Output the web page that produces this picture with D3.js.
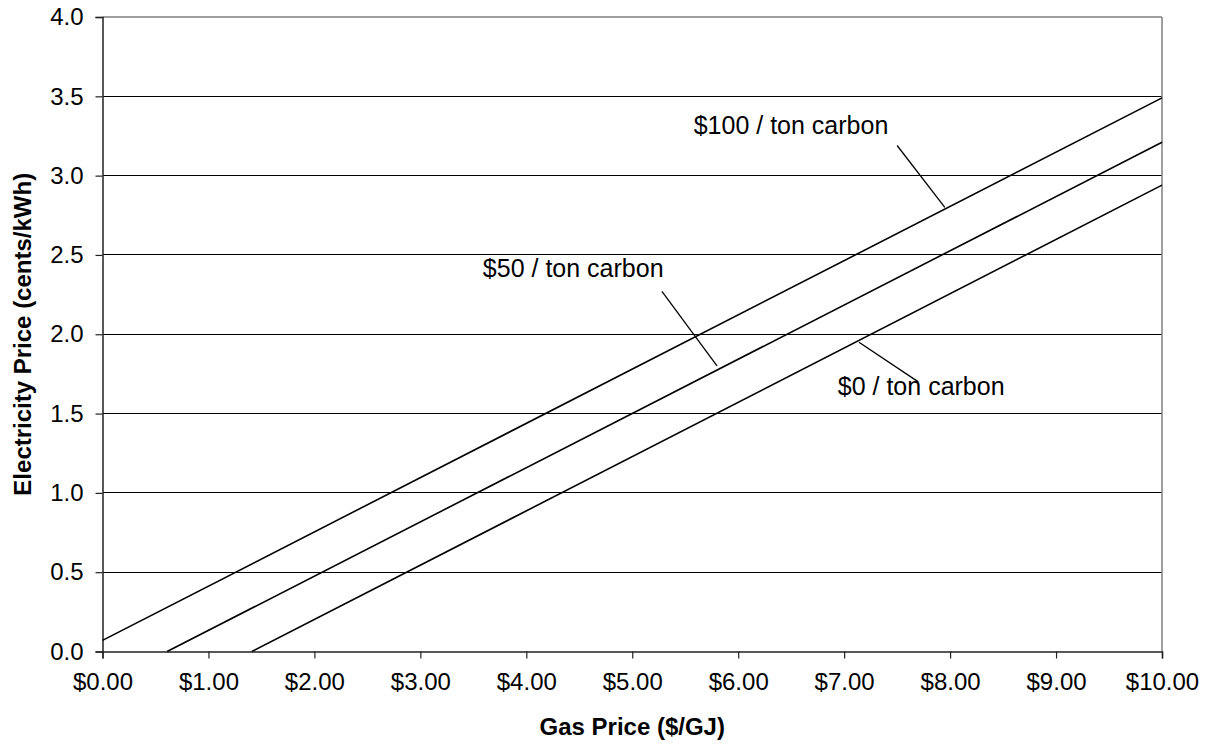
<!DOCTYPE html>
<html>
<head>
<meta charset="utf-8">
<script src="https://cdn.jsdelivr.net/npm/d3@7"></script>
<style>
  html, body { margin: 0; padding: 0; background: #fff; }
  svg { display: block; font-family: "Liberation Sans", Arial, sans-serif; }
</style>
</head>
<body>
<svg id="chart" width="1213" height="744"></svg>
<script>
// ---- data ----
const xTicks = [0, 1, 2, 3, 4, 5, 6, 7, 8, 9, 10];
const yTicks = [0.0, 0.5, 1.0, 1.5, 2.0, 2.5, 3.0, 3.5, 4.0];
const seriesNames = ["$0 / ton carbon", "$50 / ton carbon", "$100 / ton carbon"];
const gasPrice0   = [1.41, 10];
const elecPrice0  = [0.00, 2.94];
const gasPrice50  = [0.61, 10];
const elecPrice50 = [0.00, 3.21];
const gasPrice100 = [0.00, 10];
const elecPrice100= [0.07, 3.49];
// label anchor (data units) and callout line ends (data units)
const labelX   = [6.94, 3.59, 5.58];
const labelY   = [1.617, 2.36, 3.263];
const calloutX1 = [7.14, 5.28, 7.50];
const calloutY1 = [1.95, 2.27, 3.19];
const calloutX2 = [7.70, 5.80, 7.95];
const calloutY2 = [1.70, 1.80, 2.80];

(function () {
const series = [
  { name: seriesNames[0], xs: gasPrice0,   ys: elecPrice0 },
  { name: seriesNames[1], xs: gasPrice50,  ys: elecPrice50 },
  { name: seriesNames[2], xs: gasPrice100, ys: elecPrice100 }
].map(s => ({ name: s.name, pts: s.xs.map((x, i) => ({ x, y: s.ys[i] })) }));

// ---- layout ----
const svg = d3.select("#chart");
const mLeft = 102.5, mRight = 1162, mTop = 17, mBottom = 651.5;
const x = d3.scaleLinear().domain([0, 10]).range([mLeft, mRight]);
const y = d3.scaleLinear().domain([0, 4]).range([mBottom, mTop]);

// gridlines
svg.append("g").selectAll("line")
  .data(yTicks.filter(t => t > 0 && t < 4))
  .join("line")
  .attr("x1", mLeft).attr("x2", mRight)
  .attr("y1", d => y(d)).attr("y2", d => y(d))
  .attr("stroke", "#000").attr("stroke-width", 1).attr("shape-rendering", "crispEdges");

// plot border (top & right gray)
svg.append("line").attr("x1", mLeft).attr("x2", mRight).attr("y1", mTop).attr("y2", mTop)
  .attr("stroke", "#808080").attr("stroke-width", 1.5);
svg.append("line").attr("x1", mRight).attr("x2", mRight).attr("y1", mTop).attr("y2", mBottom)
  .attr("stroke", "#808080").attr("stroke-width", 1.5);

// axes
const xAxis = d3.axisBottom(x).tickValues(xTicks).tickSize(7).tickPadding(14)
  .tickFormat(d => "$" + d3.format(".2f")(d));
const gx = svg.append("g").attr("transform", `translate(0,${mBottom})`).call(xAxis);
const yAxis = d3.axisLeft(y).tickValues(yTicks).tickSize(7).tickPadding(12)
  .tickFormat(d3.format(".1f"));
const gy = svg.append("g").attr("transform", `translate(${mLeft},0)`).call(yAxis);

[gx, gy].forEach(g => {
  g.select(".domain").attr("stroke", "#222").attr("stroke-width", 1.5);
  g.selectAll(".tick line").attr("stroke", "#222").attr("stroke-width", 1.2);
  g.selectAll(".tick text").attr("fill", "#000").style("font-size", "24px")
    .style("font-family", '"Liberation Sans", Arial, sans-serif');
});

// series lines
const line = d3.line().x(d => x(d.x)).y(d => y(d.y));
svg.append("g").selectAll("path")
  .data(series).join("path")
  .attr("d", d => line(d.pts))
  .attr("fill", "none").attr("stroke", "#000").attr("stroke-width", 1.6);

// callouts
const idx = seriesNames.map((n, i) => i);
svg.append("g").selectAll("line")
  .data(idx).join("line")
  .attr("x1", i => x(calloutX1[i])).attr("y1", i => y(calloutY1[i]))
  .attr("x2", i => x(calloutX2[i])).attr("y2", i => y(calloutY2[i]))
  .attr("stroke", "#000").attr("stroke-width", 1.3);

svg.append("g").selectAll("text")
  .data(idx).join("text")
  .attr("x", i => x(labelX[i])).attr("y", i => y(labelY[i]))
  .text(i => seriesNames[i])
  .style("font-size", "25px").attr("fill", "#000");

// axis titles
svg.append("text")
  .attr("x", (mLeft + mRight) / 2).attr("y", 735)
  .attr("text-anchor", "middle")
  .style("font-size", "24px").style("font-weight", "bold")
  .text("Gas Price ($/GJ)");
svg.append("text")
  .attr("transform", `translate(31,${(mTop + mBottom) / 2}) rotate(-90)`)
  .attr("text-anchor", "middle")
  .style("font-size", "24px").style("font-weight", "bold")
  .text("Electricity Price (cents/kWh)");
})();
</script>
</body>
</html>
